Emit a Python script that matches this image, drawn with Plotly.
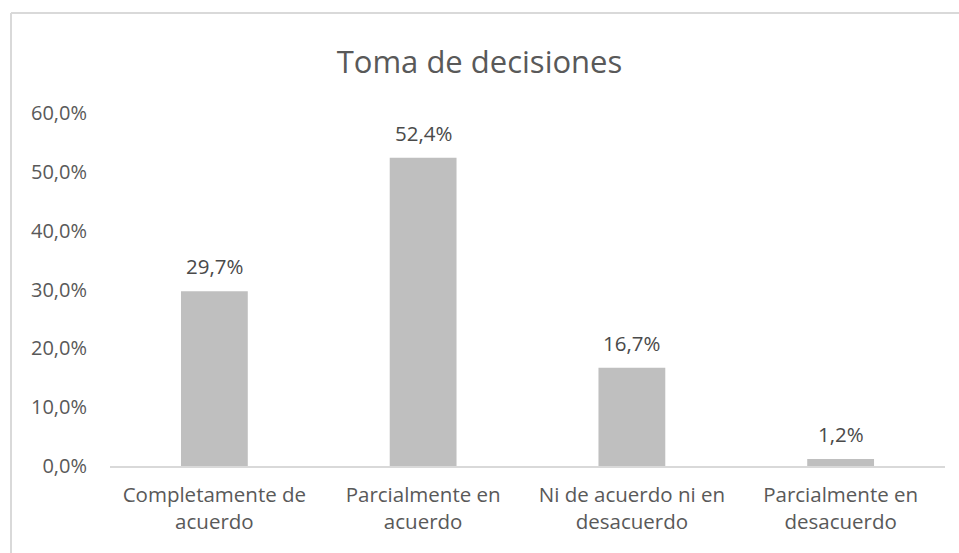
import plotly.graph_objects as go

categories = ["Completamente de<br>acuerdo", "Parcialmente en<br>acuerdo",
              "Ni de acuerdo ni en<br>desacuerdo", "Parcialmente en<br>desacuerdo"]
values = [0.297, 0.524, 0.167, 0.012]
value_labels = ["29,7%", "52,4%", "16,7%", "1,2%"]

L, R, T, B = 110, 14, 113, 87
W, H = 959, 553
pw, ph = W - L - R, H - T - B
FONT = "Open Sans, sans-serif"

def px(x):
    return (x - L) / pw

def py(y):
    return (H - B - y) / ph

fig = go.Figure(go.Bar(
    x=categories, y=values,
    marker=dict(color="#bfbfbf", line=dict(width=0)),
    hoverinfo="skip",
))

annotations = [
    dict(x=c, y=v, xref="x", yref="y", text=t, showarrow=False,
         yanchor="middle", yshift=25,
         font=dict(family=FONT, size=20.5, color="#4a4a4a"))
    for c, v, t in zip(categories, values, value_labels)
]

fig.update_layout(
    width=W, height=H,
    margin=dict(l=L, r=R, t=T, b=B),
    paper_bgcolor="white", plot_bgcolor="white",
    separators=",.",
    bargap=0.68,
    showlegend=False,
    title=dict(text="Toma de decisiones", x=0.5, xanchor="center",
               y=1 - 62 / H, yanchor="middle",
               font=dict(family=FONT, size=31, color="#595959")),
    font=dict(family=FONT, size=20, color="#595959"),
    xaxis=dict(showgrid=False, showline=True, linecolor="#d9d9d9", linewidth=1.5,
               ticks="", ticklabelstandoff=10,
               tickfont=dict(family=FONT, size=20.5, color="#595959")),
    yaxis=dict(range=[0, 0.6], dtick=0.1, tickformat=".1%", showgrid=False,
               zeroline=False, showline=False, ticks="",
               ticklabelstandoff=22,
               tickfont=dict(family=FONT, size=20, color="#595959")),
    annotations=annotations,
    shapes=[
        dict(type="line", xref="paper", yref="paper", x0=px(11), x1=px(962),
             y0=py(13), y1=py(13), line=dict(color="#d9d9d9", width=2)),
        dict(type="line", xref="paper", yref="paper", x0=px(11), x1=px(11),
             y0=py(13), y1=py(556), line=dict(color="#d9d9d9", width=2)),
    ],
)

fig.write_html("out.html", config={"displayModeBar": False},
               post_script="document.body.style.margin='0';document.body.style.padding='0';")
